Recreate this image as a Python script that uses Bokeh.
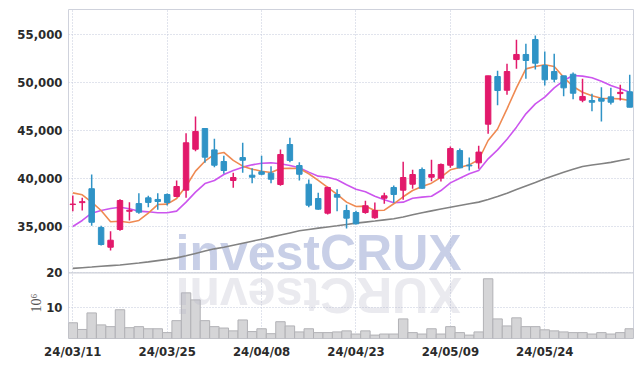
import math
from bokeh.plotting import figure
from bokeh.models import Range1d, FixedTicker, Span, Title, ColumnDataSource
from bokeh.core.properties import value
from bokeh.embed import file_html
from bokeh.resources import INLINE

# ---------------- data ----------------
dates = ["24/03/11", "24/03/12", "24/03/13", "24/03/14", "24/03/15", "24/03/18", "24/03/19", "24/03/20",
         "24/03/21", "24/03/22", "24/03/25", "24/03/26", "24/03/27", "24/03/28", "24/03/29", "24/04/01",
         "24/04/02", "24/04/03", "24/04/04", "24/04/05", "24/04/08", "24/04/09", "24/04/11", "24/04/12",
         "24/04/15", "24/04/16", "24/04/17", "24/04/18", "24/04/19", "24/04/22", "24/04/23", "24/04/24",
         "24/04/25", "24/04/26", "24/04/29", "24/04/30", "24/05/02", "24/05/03", "24/05/07", "24/05/08",
         "24/05/09", "24/05/10", "24/05/13", "24/05/14", "24/05/16", "24/05/17", "24/05/20", "24/05/21",
         "24/05/22", "24/05/23", "24/05/24", "24/05/27", "24/05/28", "24/05/29", "24/05/30", "24/05/31",
         "24/06/03", "24/06/04", "24/06/05", "24/06/07"]

opens = [37300, 37500, 38950, 34900, 32850, 34700, 36600, 37400, 38000, 37830,
         38350, 38140, 38800, 43070, 45230, 43000, 41790, 39810, 42200, 40360,
         40710, 40570, 39390, 43560, 41370, 39420, 37930, 36400, 38350, 36680,
         36470, 36470, 35920, 37960, 39080, 38800, 39420, 40950, 40150, 40050,
         41400, 42930, 41400, 41650, 45680, 50650, 49220, 52420, 52950, 54510,
         51800, 51170, 50720, 50890, 48180, 48150, 48360, 48530, 48870, 49060]
highs = [38250, 38000, 40430, 35080, 34520, 37860, 37550, 38480, 38210, 38480,
         38450, 39800, 44740, 46480, 45230, 44150, 42380, 40610, 43740, 41090,
         42380, 41300, 43040, 44260, 41720, 39910, 38520, 39150, 38900, 37270,
         36650, 37690, 37510, 38520, 39290, 41750, 40920, 41160, 41970, 41580,
         43350, 43140, 42200, 43420, 50720, 51250, 51980, 54480, 54060, 54930,
         53260, 53020, 50720, 51070, 50410, 48850, 49540, 49470, 49790, 50830]
lows = [36600, 36680, 35080, 33030, 32510, 34560, 35640, 36330, 37020, 36750,
        37200, 38070, 38000, 42860, 41650, 41190, 40510, 39050, 40610, 39530,
        40360, 39530, 39250, 41720, 39810, 37020, 36750, 36260, 36600, 34800,
        35220, 36330, 35810, 37380, 37480, 37790, 38940, 38940, 39740, 39700,
        41130, 41090, 40850, 41030, 44680, 47660, 48740, 51450, 50410, 51380,
        49710, 50060, 48600, 48280, 47970, 47030, 45960, 47730, 48150, 47450]
closes = [37350, 37600, 35450, 33130, 33580, 37720, 36700, 36500, 37520, 37620,
          37510, 39180, 43740, 44920, 42240, 41400, 40850, 40120, 41920, 40150,
          40460, 39940, 42520, 41900, 40460, 37230, 36820, 39080, 38070, 35880,
          35290, 37170, 36680, 38210, 38350, 40120, 40430, 39000, 40430, 41480,
          43140, 41130, 41330, 42770, 50720, 49190, 51170, 52950, 52320, 52040,
          50310, 50370, 49470, 48910, 48570, 47970, 48080, 47970, 49000, 47450]

ma5 = [38520, 38320, 37550, 36680, 35500, 35560, 35430, 35640, 36400, 37300,
       37340, 37930, 39210, 40780, 41820, 42540, 42730, 41900, 41300, 40990,
       40780, 40640, 41060, 41090, 41060, 40510, 39810, 39080, 38350, 37550,
       37100, 37130, 36680, 36710, 37380, 38110, 38760, 39180, 39530, 40150,
       40920, 41160, 41440, 41970, 43980, 45180, 47280, 49470, 51450, 51700,
       51870, 51700, 50580, 49610, 49010, 48640, 48390, 48360, 48320, 48150]
ma10 = [35010, 35640, 36400, 36680, 36890, 37020, 36860, 36610, 36540, 36440,
        36440, 36610, 37550, 38590, 39490, 39810, 40430, 40850, 41200, 41440,
        41610, 41650, 41550, 41370, 41130, 40680, 40260, 40150, 39880, 39360,
        38900, 38630, 38170, 37790, 37480, 37550, 37960, 38070, 38170, 38760,
        39560, 40050, 40510, 40850, 42070, 43000, 44100, 45370, 46760, 47800,
        48500, 49470, 50230, 50760, 50690, 50520, 50160, 49710, 49370, 49020]
ma_long = [30640, 30710, 30780, 30860, 30930, 31000, 31100, 31200, 31320, 31450,
           31580, 31740, 31950, 32200, 32450, 32680, 32850, 33060, 33270, 33480,
           33690, 33900, 34120, 34340, 34560, 34700, 34840, 34960, 35080, 35220,
           35360, 35470, 35580, 35700, 35810, 36000, 36230, 36440, 36640, 36830,
           37020, 37200, 37380, 37550, 37830, 38130, 38480, 38860, 39230, 39600,
           39980, 40330, 40660, 40970, 41270, 41420, 41560, 41700, 41890, 42070]

volumes = [5.8, 3.9, 8.6, 5.2, 4.7, 9.5, 4.4, 4.7, 4.1, 4.1,
           3.0, 6.4, 14.3, 12.3, 6.4, 4.7, 4.3, 3.5, 6.6, 3.3,
           4.1, 2.7, 6.1, 4.9, 3.2, 4.1, 3.0, 3.0, 3.2, 3.5,
           2.6, 3.5, 2.3, 2.6, 2.6, 6.9, 3.0, 2.6, 4.1, 2.6,
           4.7, 3.0, 2.3, 3.2, 18.3, 6.9, 4.9, 7.2, 4.7, 4.7,
           3.8, 3.5, 3.2, 3.0, 3.0, 2.6, 3.0, 2.6, 3.0, 4.1]

price_ticks = [35000, 40000, 45000, 50000, 55000]
volume_ticks = [10, 20]
date_tick_idx = [0, 10, 20, 30, 40, 50]
watermark = "investCRUX"
volume_unit = "10\u2076"

# ---------------- layout constants ----------------
PRICE_LO, PRICE_HI = 23330, 57640
VOL_LO, VOL_HI = 1.33, 94.8
X_LO, X_HI = -0.455, 59.40

UP = "#e2196b"
DOWN = "#2f93c6"
FONT = "'Liberation Sans Narrow', 'DejaVu Sans Condensed', 'Roboto Condensed', Roboto, sans-serif"

idx = list(range(len(dates)))
colors = [UP if c >= o else DOWN for o, c in zip(opens, closes)]
src = ColumnDataSource(dict(
    x=idx, open=opens, high=highs, low=lows, close=closes,
    top=[max(o, c) for o, c in zip(opens, closes)],
    bottom=[min(o, c) for o, c in zip(opens, closes)],
    color=colors, vol=volumes, ma5=ma5, ma10=ma10, ma_long=ma_long,
))

p = figure(width=636, height=362, output_backend="svg", toolbar_location=None,
           x_range=Range1d(X_LO, X_HI), y_range=Range1d(PRICE_LO, PRICE_HI),
           min_border_left=68, min_border_right=3, min_border_top=9, min_border_bottom=24)
p.extra_y_ranges = {"vol": Range1d(VOL_LO, VOL_HI)}
p.background_fill_color = "white"
p.border_fill_color = "white"
p.outline_line_color = "#cfd2dc"
p.outline_line_width = 1


def vol_to_price(v):
    return round(PRICE_LO + (v - VOL_LO) / (VOL_HI - VOL_LO) * (PRICE_HI - PRICE_LO))


vt = [vol_to_price(v) for v in volume_ticks]
yticks = vt + price_ticks
overrides = {t: str(v) for t, v in zip(vt, volume_ticks)}
overrides.update({t: f"{t:,}" for t in price_ticks})

yax = p.yaxis[0]
yax.ticker = FixedTicker(ticks=yticks)
yax.major_label_overrides = overrides
yax.axis_line_color = None
yax.major_tick_line_color = None
yax.minor_tick_line_color = None
yax.major_tick_out = 0
yax.major_tick_in = 0
yax.minor_tick_out = 0
yax.major_label_standoff = 6
yax.major_label_text_font = FONT
yax.major_label_text_font_style = "bold"
yax.major_label_text_font_size = "13px"
yax.major_label_text_color = "#2b2b2b"

xax = p.xaxis[0]
xax.ticker = FixedTicker(ticks=date_tick_idx)
xax.major_label_overrides = {i: dates[i] for i in date_tick_idx}
xax.axis_line_color = None
xax.major_tick_line_color = None
xax.minor_tick_line_color = None
xax.major_tick_out = 0
xax.major_tick_in = 0
xax.minor_tick_out = 0
xax.major_label_standoff = 5
xax.major_label_text_font = FONT
xax.major_label_text_font_style = "bold"
xax.major_label_text_font_size = "13px"
xax.major_label_text_color = "#2b2b2b"

for g in (p.xgrid[0], p.ygrid[0]):
    g.grid_line_color = "#c3c8da"
    g.grid_line_dash = "1 2"
    g.grid_line_width = 1

p.add_layout(Span(location=volume_ticks[-1], dimension="width", y_range_name="vol",
                  line_color="#cdd0d8", line_width=1.2))

# volume bars
p.vbar(x="x", top="vol", bottom=VOL_LO, width=1.0, source=src, y_range_name="vol",
       fill_color="#d5d5d7", line_color="#b2b2b6", line_width=1)

# watermark + reflection
WM_X = 10.88
p.text(x=[WM_X], y=[32196], text=[watermark], text_font=value("Liberation Sans"),
       text_font_style=value("bold"), text_font_size=value("50px"),
       text_color="#a7b2d8", text_alpha=0.62, text_align="left", text_baseline="middle")
p.text(x=[WM_X], y=[27817], text=[watermark[::-1]], angle=math.pi, text_font=value("Liberation Sans"),
       text_font_style=value("bold"), text_font_size=value("50px"),
       text_color="#b4b4c6", text_alpha=0.28, text_align="right", text_baseline="middle")

# moving averages
p.line("x", "ma_long", source=src, line_color="#828282", line_width=1.6)
p.line("x", "ma10", source=src, line_color="#cc55ee", line_width=1.6)
p.line("x", "ma5", source=src, line_color="#ef8a52", line_width=1.6)

# candles
p.segment(x0="x", y0="low", x1="x", y1="high", source=src, line_color="color", line_width=1.5)
p.vbar(x="x", top="top", bottom="bottom", width=0.58, source=src,
       fill_color="color", line_color="color", line_width=1)

# unit label of the volume panel
p.add_layout(Title(text=volume_unit, align="left", offset=26, standoff=-58,
                   text_font="Liberation Serif", text_font_style="normal",
                   text_font_size="14px", text_color="#555555"), "left")

open("out.html", "w").write(file_html(p, INLINE))
